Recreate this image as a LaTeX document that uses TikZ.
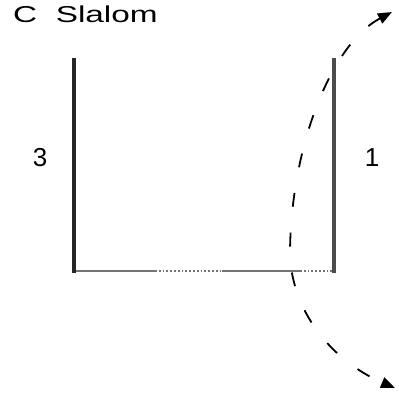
\documentclass[tikz,border=0pt]{standalone}
\usepackage{fontspec}
\setmainfont{Liberation Sans}
\usetikzlibrary{arrows.meta}

\begin{document}
\begin{tikzpicture}[x=1pt,y=-1pt,every node/.style={inner sep=0pt,font=\fontsize{26}{30}\selectfont},
  pole/.style={line width=4.5pt,black!85},
  gate/.style={line width=1.8pt,black!55},
  route/.style={line width=1.8pt,dash pattern=on 14pt off 26pt,{Triangle[length=14pt,width=11pt]}-{Triangle[length=14pt,width=11pt]}}]
\useasboundingbox (0,0) rectangle (399,392);
\node[anchor=west] (title) at (13,14) {\fontsize{23}{26}\selectfont\scalebox{1.45}[1]{C\ \ Slalom}};
\coordinate (ltop) at (74,58); \coordinate (lbot) at (74,273); \coordinate (rtop) at (334,58); \coordinate (rbot) at (334,273);
\coordinate (gl) at (76,271); \coordinate (g1) at (155,271); \coordinate (g2) at (222,271); \coordinate (g3) at (300,271); \coordinate (gr) at (332,271);
\draw[pole] (ltop)--(lbot); \draw[pole,black!70] (rtop)--(rbot);
\draw[gate] (gl)--(g1); \draw[gate,dotted] (g1)--(g2); \draw[gate] (g2)--(g3); \draw[gate,dotted] (g3)--(gr);
\node (three) at (40,158) {3}; \node (one) at (372,158) {1};
\coordinate (top) at (392,12); \coordinate (mid) at (290,255); \coordinate (bot) at (395,388);
\draw[route] (top) .. controls (330,45) and (290,150) .. (mid) .. controls (292,310) and (330,360) .. (bot);
\end{tikzpicture}
\end{document}
